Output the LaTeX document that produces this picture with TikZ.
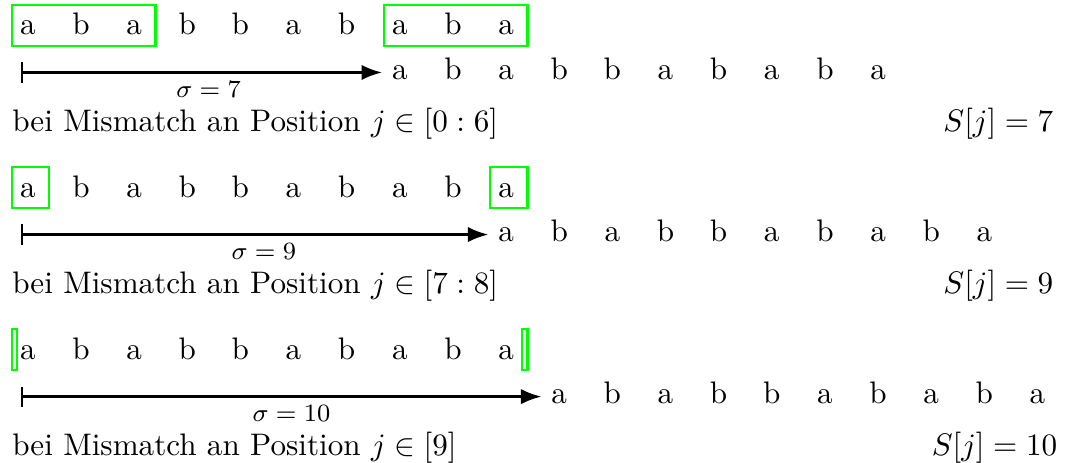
\documentclass[tikz,border=0pt]{standalone}
\usetikzlibrary{arrows.meta, positioning}
\tikzset{
  letter/.style={anchor=base, inner sep=3pt},
  matchbox/.style={draw=green, line width=0.75pt},
  shiftarrow/.style={thick, {Bar[width=6.5pt]}->},
}

\begin{document}
\begin{tikzpicture}[>=Latex]
  \useasboundingbox (-0.314, 0.395) rectangle (11.79, -4.832);
  \foreach \s/\y/\range/\sx [count=\r] in {7/0/{0 : 6}/11.586, 9/-1.83/{7 : 8}/11.586, 10/-3.66/{9}/11.63} {
    % text and shifted pattern
    \foreach \c [count=\i from 0] in {a,b,a,b,b,a,b,a,b,a} {
      \node[letter] (t\r-\i) at (0.6*\i, \y) {\c};
      \node[letter] (p\r-\i) at (0.6*\i+0.6*\s, \y-0.5) {\c};
    }
    % shift arrow
    \path (t\r-0.base |- p\r-0.west) ++(-0.08, 0) coordinate (o\r);
    \draw[shiftarrow] (o\r) -- (p\r-0.west)
      node[pos=0.52, below, inner sep=2.5pt, font=\footnotesize] {$\sigma = \s$};
    % mismatch range and shift value
    \node[anchor=base west, inner sep=0pt] (m\r) at (-0.182, \y-1.09)
      {bei Mismatch an Position $j \in [\range]$};
    \node[anchor=base east, inner sep=0pt] (v\r) at (\sx, \y-1.09) {$S[j] = \s$};
  }
  % matching border and prefix
  \draw[matchbox] (-0.18, -0.124) rectangle (1.443, 0.339);
  \draw[matchbox] (4.02, -0.124) rectangle (5.643, 0.339);
  \draw[matchbox] (-0.18, -1.954) rectangle (0.243, -1.491);
  \draw[matchbox] (5.22, -1.954) rectangle (5.643, -1.491);
  \draw[matchbox] (-0.18, -3.784) rectangle (-0.12, -3.321);
  \draw[matchbox] (5.583, -3.784) rectangle (5.643, -3.321);
\end{tikzpicture}
\end{document}
